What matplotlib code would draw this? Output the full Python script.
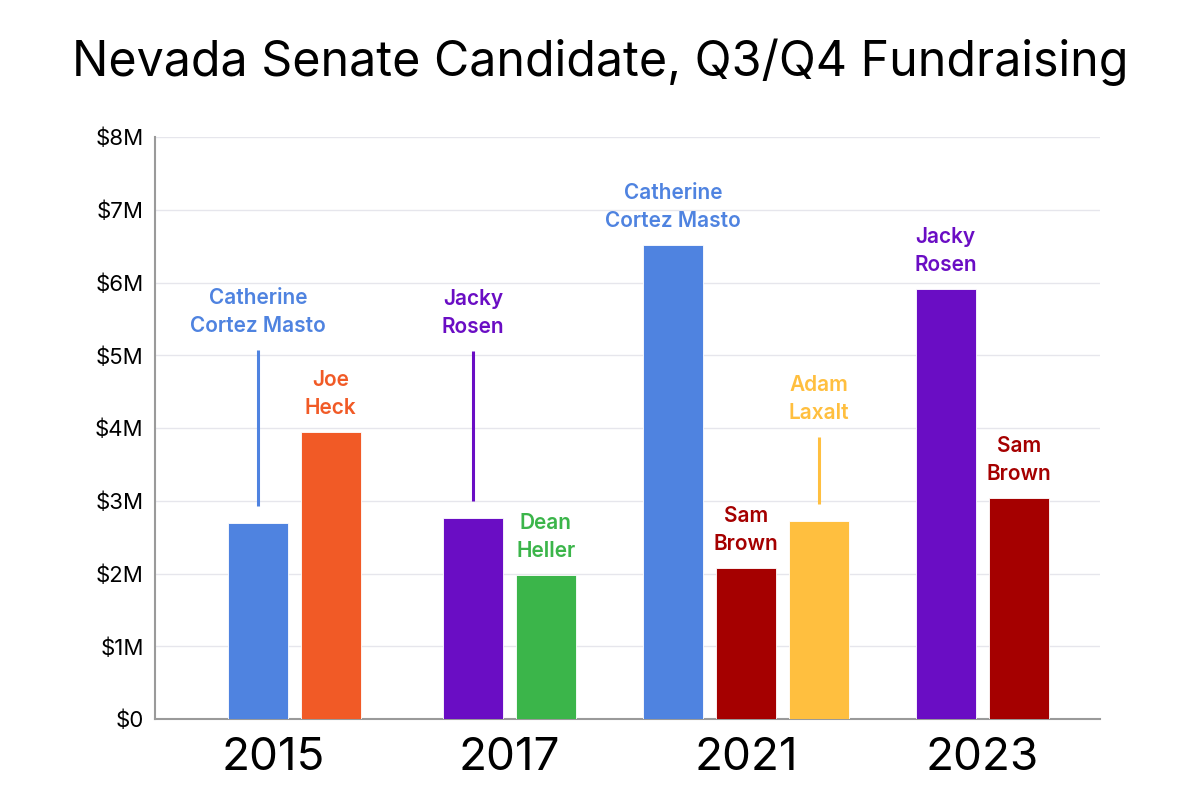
import matplotlib
matplotlib.use("Agg")
import matplotlib.pyplot as plt
import numpy as np
from matplotlib.ticker import FuncFormatter

# ---- data ----
years = ["2015", "2017", "2021", "2023"]
bar_year = [0, 0, 1, 1, 2, 2, 2, 3, 3]
bar_names = ["Catherine\nCortez Masto", "Joe\nHeck",
             "Jacky\nRosen", "Dean\nHeller",
             "Catherine\nCortez Masto", "Sam\nBrown", "Adam\nLaxalt",
             "Jacky\nRosen", "Sam\nBrown"]
bar_values = [2.69, 3.95, 2.76, 1.98, 6.52, 2.08, 2.72, 5.91, 3.04]  # $M
bar_colors = ["#4F83E0", "#F15A26", "#6A0DC4", "#3BB54A",
              "#4F83E0", "#A50000", "#FFBF3F", "#6A0DC4", "#A50000"]
y_ticks = [0, 1, 2, 3, 4, 5, 6, 7, 8]

# ---- layout / style ----
leader_px = [156, 0, 150, 0, 0, 0, 67, 0, 0]   # leader line length in pixels
group_shift = [0.09, 0, 0, 0]
step = 0.309
width = 0.254

plt.rcParams['font.family'] = ['Inter', 'DejaVu Sans']
fig = plt.figure(figsize=(12, 8.05), dpi=100)
ax = fig.add_axes([0.129, 0.1068, 0.788, 0.723])
ax.set_xlim(-0.5, 3.5)
ax.set_ylim(0, 8)

# compute x positions centered within each group
xs = []
for g in range(len(years)):
    idx = [i for i, yy in enumerate(bar_year) if yy == g]
    n = len(idx)
    for k, i in enumerate(idx):
        xs.append((i, g + (k - (n - 1) / 2) * step + group_shift[g]))
xs = [x for _, x in sorted(xs)]

ax.bar(xs, bar_values, width=width, color=bar_colors, zorder=3,
       edgecolor='white', linewidth=0.6)

gap = 14
trans = ax.transData
inv = trans.inverted()
for x, v, name, c, L in zip(xs, bar_values, bar_names, bar_colors, leader_px):
    off = gap
    if L > 0:
        p0 = trans.transform((x, v))
        ya = inv.transform((p0[0], p0[1] + gap + 3))[1]
        yb = inv.transform((p0[0], p0[1] + gap + 3 + L))[1]
        ax.plot([x, x], [ya, yb], color=c, lw=2.2, zorder=4, solid_capstyle='butt')
        off = gap + 3 + L + 14
    ax.annotate(name, xy=(x, v), xytext=(0, off), textcoords='offset pixels',
                ha='center', va='bottom', color=c, fontsize=15,
                fontweight='semibold', linespacing=1.5, zorder=5)

ax.set_yticks(y_ticks)
ax.yaxis.set_major_formatter(FuncFormatter(lambda v, p: "$0" if v == 0 else f"${int(v)}M"))
ax.set_xticks(range(len(years)))
ax.set_xticklabels(years, fontsize=33)
ax.tick_params(axis='x', length=0, pad=13)
ax.tick_params(axis='y', length=0, pad=8, labelsize=16)
ax.grid(axis='y', color='#e6e6ec', lw=1, zorder=0)
ax.set_axisbelow(True)
for s in ['top', 'right']:
    ax.spines[s].set_visible(False)
for s in ['left', 'bottom']:
    ax.spines[s].set_color('#9a9a9a')
    ax.spines[s].set_linewidth(1.5)

fig.text(0.5, 0.923, "Nevada Senate Candidate, Q3/Q4 Fundraising",
         ha='center', va='center', fontsize=34.8)

fig.savefig("out.png", dpi=100)
